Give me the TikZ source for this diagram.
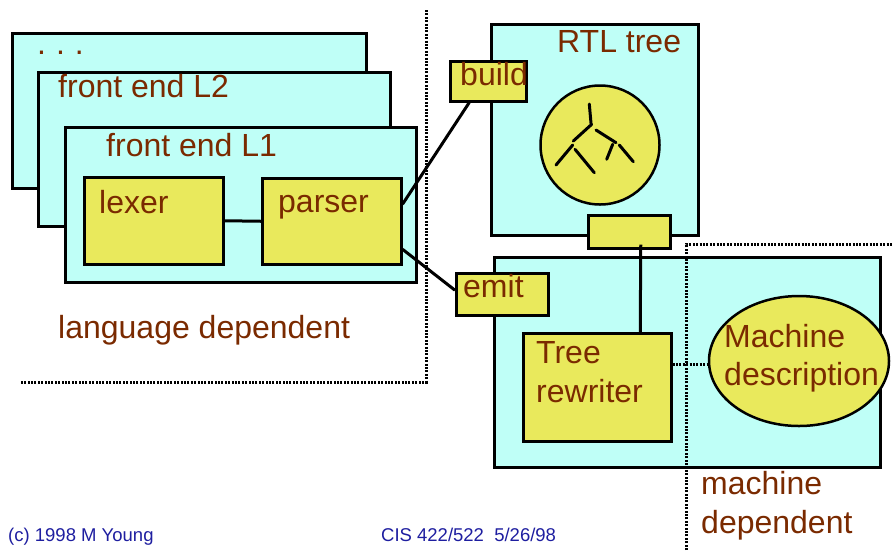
\documentclass[tikz,border=0pt]{standalone}
\usepackage{fontspec}
\setmainfont{Liberation Sans}
\usetikzlibrary{shapes.geometric}
\definecolor{panel}{RGB}{191,255,247}
\definecolor{part}{RGB}{233,233,92}
\definecolor{ink}{RGB}{122,42,0}
\definecolor{foot}{RGB}{30,30,160}
\begin{document}
\begin{tikzpicture}[x=1pt,y=-1pt,
  panelbox/.style={draw=black, line width=2.5pt, fill=panel, inner sep=0pt, anchor=north west},
  partbox/.style={draw=black, line width=2.5pt, fill=part, inner sep=0pt, anchor=north west},
  lbl/.style={anchor=base west, inner sep=0pt, text=ink, font=\fontsize{32}{38.5}\selectfont},
  wire/.style={line width=3pt},
  branch/.style={line width=3pt, line cap=round},
  border/.style={line width=3pt, dash pattern=on 2pt off 1.4pt},
  footer/.style={anchor=base west, inner sep=0pt, text=foot, font=\fontsize{18.5}{22}\selectfont}]
\useasboundingbox (0,0) rectangle (893,550);

% ---- front ends (stacked) ----
\node[panelbox, minimum width=354pt, minimum height=155pt] (more) at (11,32) {};
\node[lbl] (moretxt) at (37,54) {.\hspace{10pt}.\hspace{10pt}.};
\node[panelbox, minimum width=352pt, minimum height=154pt] (fe2) at (37,71) {};
\node[lbl] (fe2txt) at (58,97) {front end L2};
\node[panelbox, minimum width=351pt, minimum height=155pt] (fe1) at (64,126) {};
\node[lbl] (fe1txt) at (106,156) {front end L1};
\node[partbox, minimum width=139pt, minimum height=87pt] (lexer) at (83,176) {};
\node[lbl] (lexertxt) at (99,213) {lexer};
\node[partbox, minimum width=139pt, minimum height=86pt] (parser) at (261,177) {};
\node[lbl] (parsertxt) at (278,212) {parser};
\node[lbl] (langdep) at (58,338) {language dependent};

% ---- RTL tree ----
\node[panelbox, minimum width=207pt, minimum height=211pt] (rtl) at (490,23) {};
\node[lbl] (rtltxt) at (557,52) {RTL tree};
\node[draw=black, line width=2.5pt, fill=part, circle, minimum size=119pt, inner sep=0pt] (treeimg) at (600,145) {};
\draw[branch] (589.3,104) -- (591,123.3);
\draw[branch] (591.7,124.3) -- (573.3,141);
\draw[branch] (596,130) -- (616,142.7);
\draw[branch] (572.7,145) -- (556,165);
\draw[branch] (575,149.3) -- (594.3,172.7);
\draw[branch] (612.7,144.3) -- (606.7,159.3);
\draw[branch] (619.3,145) -- (633.3,161.7);
\node[partbox, minimum width=76pt, minimum height=40pt] (build) at (449,60) {};
\node[lbl] (buildtxt) at (460,85) {build};
\node[partbox, minimum width=82pt, minimum height=33pt] (port) at (587,214) {};

% ---- back end ----
\node[panelbox, minimum width=386pt, minimum height=210pt] (back) at (493,256) {};
\node[partbox, minimum width=92pt, minimum height=42pt] (emit) at (455,272) {};
\node[lbl] (emittxt) at (463,297) {emit};
\node[partbox, minimum width=148pt, minimum height=108pt] (rewriter) at (522,332) {};
\node[lbl] (rw1) at (536,363) {Tree};
\node[lbl] (rw2) at (536,402) {rewriter};

% ---- region borders ----
\coordinate (ldtop) at (426,10);
\coordinate (ldcorner) at (426,382);
\coordinate (ldleft) at (21,382);
\draw[border] (ldtop) -- (ldcorner) -- (ldleft);
\coordinate (mdbottom) at (686,550);
\coordinate (mdcorner) at (686,244);
\coordinate (mdright) at (893,244);
\draw[border] (mdbottom) -- (mdcorner) -- (mdright);

\node[draw=black, line width=2.5pt, fill=part, ellipse, minimum width=180pt, minimum height=130pt, inner sep=0pt] (mach) at (799,361) {};
\node[lbl] (mach1) at (724,347) {Machine};
\node[lbl] (mach2) at (724,385) {description};
\node[lbl] (md1) at (701,494) {machine};
\node[lbl] (md2) at (701,533) {dependent};

% ---- connectors ----
\draw[wire] (lexer.east) -- (parser.west);
\draw[wire] ([yshift=17pt]parser.east) -- ([xshift=-19pt]build.south);
\draw[wire] ([yshift=-28pt]parser.east) -- ([yshift=4pt]emit.west);
\draw[wire] ([xshift=11.5pt,yshift=5pt]port.south) -- ([xshift=43pt]rewriter.north);
\draw[border] ([yshift=22.5pt]rewriter.east) -- ([yshift=22.5pt]rewriter.east -| mach.west);

% ---- footer ----
\node[footer] (copy) at (8,541) {(c) 1998 M Young};
\node[footer] (course) at (381,541) {CIS 422/522\ \ 5/26/98};
\end{tikzpicture}
\end{document}
